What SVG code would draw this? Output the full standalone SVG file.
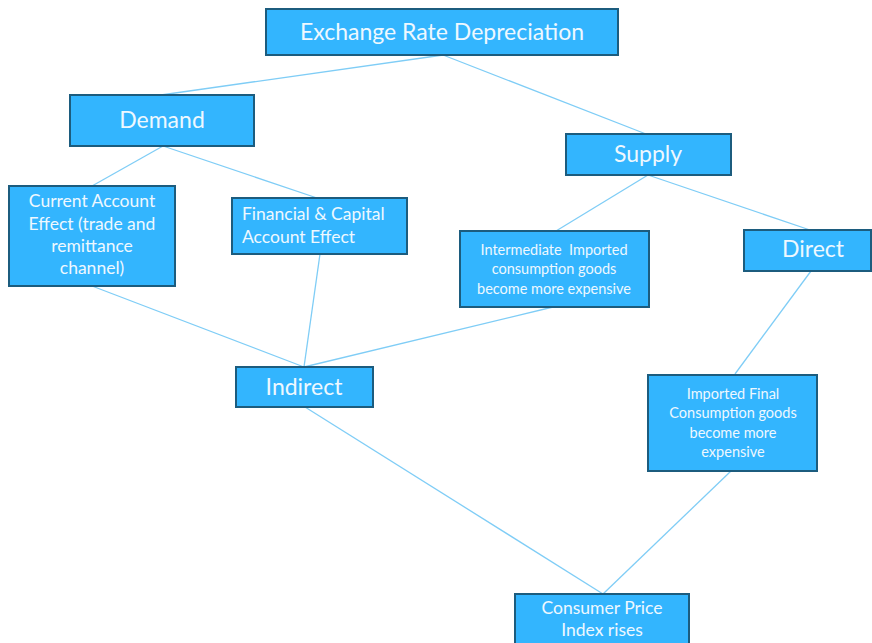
<svg xmlns="http://www.w3.org/2000/svg" width="872" height="643" viewBox="0 0 872 643">
<style>
.box{fill:#33b5fe;stroke:#1c5c7e;stroke-width:2}
.t{font-family:Lato,"Open Sans",sans-serif;fill:#eef8ff;text-anchor:middle}
.l{font-size:23px}
.m{font-size:17.5px}
.s{font-size:14.5px}
.c line{stroke:#7fcdf6;stroke-width:1.3}
</style>
<rect width="872" height="643" fill="#fff"/>
<g class="c">
<line x1="443" y1="55" x2="161" y2="95"/>
<line x1="443" y1="55" x2="646" y2="134"/>
<line x1="163" y1="146" x2="92" y2="186"/>
<line x1="163" y1="146" x2="317" y2="198"/>
<line x1="648" y1="175" x2="556" y2="231"/>
<line x1="648" y1="175" x2="810" y2="230"/>
<line x1="92" y1="286" x2="304" y2="367"/>
<line x1="320" y1="254" x2="304" y2="367"/>
<line x1="553" y1="307" x2="304" y2="367"/>
<line x1="811" y1="271" x2="735" y2="374"/>
<line x1="305" y1="407" x2="603" y2="594"/>
<line x1="731" y1="471" x2="603" y2="594"/>
</g>
<g id="erd"><rect class="box" x="266" y="9" width="352" height="46"/><text class="t l" x="442" y="40">Exchange Rate Depreciation</text></g>
<g id="demand"><rect class="box" x="70" y="95" width="184" height="51"/><text class="t l" x="162" y="128">Demand</text></g>
<g id="current"><rect class="box" x="9" y="186" width="166" height="100"/><text class="t m" x="92"><tspan x="92" y="207">Current Account</tspan><tspan x="92" y="230">Effect (trade and</tspan><tspan x="92" y="252">remittance</tspan><tspan x="92" y="274">channel)</tspan></text></g>
<g id="financial"><rect class="box" x="232" y="198" width="175" height="56"/><text class="t m" style="text-anchor:start"><tspan x="242" y="220">Financial &amp; Capital</tspan><tspan x="242" y="243">Account Effect</tspan></text></g>
<g id="supply"><rect class="box" x="566" y="134" width="165" height="41"/><text class="t l" x="648" y="162">Supply</text></g>
<g id="intermediate"><rect class="box" x="460" y="231" width="189" height="76"/><text class="t s" xml:space="preserve"><tspan x="554" y="255">Intermediate  Imported</tspan><tspan x="554" y="274">consumption goods</tspan><tspan x="554" y="294">become more expensive</tspan></text></g>
<g id="direct"><rect class="box" x="744" y="230" width="127" height="41"/><text class="t l" x="813" y="257">Direct</text></g>
<g id="indirect"><rect class="box" x="236" y="367" width="137" height="40"/><text class="t l" x="304" y="395">Indirect</text></g>
<g id="final"><rect class="box" x="648" y="375" width="169" height="96"/><text class="t s"><tspan x="733" y="399">Imported Final</tspan><tspan x="733" y="418">Consumption goods</tspan><tspan x="733" y="438">become more</tspan><tspan x="733" y="457">expensive</tspan></text></g>
<g id="cpi"><rect class="box" x="515" y="594" width="174" height="52"/><text class="t m"><tspan x="602" y="614">Consumer Price</tspan><tspan x="602" y="636">Index rises</tspan></text></g>
</svg>
